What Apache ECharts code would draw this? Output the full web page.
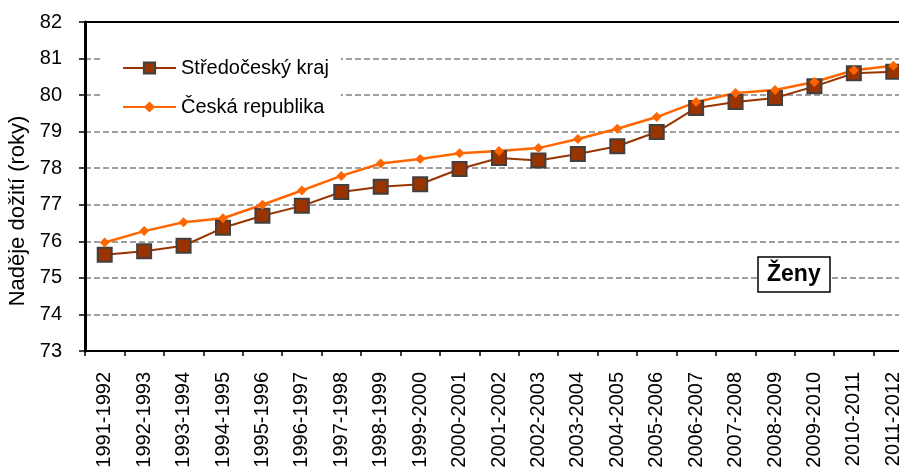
<!DOCTYPE html>
<html>
<head>
<meta charset="utf-8">
<script src="https://cdn.jsdelivr.net/npm/echarts@6/dist/echarts.min.js"></script>
<style>
html,body{margin:0;padding:0;background:#fff;}
#c{width:899px;height:473px;}
</style>
</head>
<body>
<div id="c"></div>
<script>
const categories = ['1991-1992','1992-1993','1993-1994','1994-1995','1995-1996','1996-1997','1997-1998','1998-1999','1999-2000','2000-2001','2001-2002','2002-2003','2003-2004','2004-2005','2005-2006','2006-2007','2007-2008','2008-2009','2009-2010','2010-2011','2011-2012'];
const stredocesky = [75.63,75.73,75.88,76.37,76.70,76.97,77.35,77.49,77.56,77.98,78.28,78.21,78.39,78.60,78.99,79.65,79.81,79.92,80.24,80.60,80.64];
const ceskaRepublika = [75.97,76.28,76.52,76.63,77.00,77.39,77.79,78.13,78.25,78.41,78.47,78.55,78.80,79.08,79.40,79.81,80.06,80.14,80.36,80.68,80.80];
const yTicks = {min:73, max:82, interval:1};
const seriesNames = ['Středočeský kraj','Česká republika'];
const yName = 'Naděje dožití (roky)';
const boxLabel = 'Ženy';

const FONT = 'Liberation Sans, Arial, sans-serif';
const chart = echarts.init(document.getElementById('c'));
chart.setOption({
  animation:false,
  backgroundColor:'#fff',
  textStyle:{fontFamily:FONT, color:'#000'},
  grid:{left:85, top:22, right:-14, bottom:122, containLabel:false, outerBoundsMode:'none'},
  title:{
    text:boxLabel, left:758, top:257,
    padding:[6,10,6,9],
    borderColor:'#000', borderWidth:1.5, backgroundColor:'#fff',
    textStyle:{fontFamily:FONT, fontSize:23, fontWeight:'bold', color:'#000'}
  },
  legend:{
    orient:'vertical', left:103, top:45,
    padding:[12,12,8,19],
    backgroundColor:'#fff',
    itemWidth:53, itemHeight:14, itemGap:17,
    textStyle:{fontFamily:FONT, fontSize:20, color:'#000', lineHeight:22},
    data:seriesNames
  },
  graphic:[{
    type:'text',
    x:18, y:211,
    rotation:Math.PI/2,
    style:{text:yName, font:'22px '+FONT, fill:'#000', align:'center', verticalAlign:'middle'}
  }],
  xAxis:[{
    type:'category', data:categories, boundaryGap:true,
    axisLine:{lineStyle:{color:'#000', width:2}},
    axisTick:{show:true, length:5, interval:0, lineStyle:{color:'#000', width:1.5}},
    axisLabel:{rotate:90, interval:0, fontSize:20, margin:21, color:'#000', fontFamily:FONT},
    splitLine:{show:false}
  },{
    type:'category', data:categories, position:'top',
    axisLine:{lineStyle:{color:'#000', width:2}},
    axisTick:{show:false}, axisLabel:{show:false}, splitLine:{show:false}
  }],
  yAxis:{
    type:'value', min:yTicks.min, max:yTicks.max, interval:yTicks.interval,
    axisLine:{show:true, lineStyle:{color:'#000', width:3}},
    axisTick:{show:true, length:6, lineStyle:{color:'#000', width:1.5}},
    axisLabel:{fontSize:20, margin:23, color:'#000', fontFamily:FONT},
    splitLine:{show:true, lineStyle:{color:'#808080', width:1.5, type:[6,3]}}
  },
  series:[{
    name:seriesNames[0], type:'line', data:stredocesky,
    symbol:'rect', symbolSize:14,
    lineStyle:{color:'#993300', width:2},
    itemStyle:{color:'#993300', borderColor:'#404040', borderWidth:2}
  },{
    name:seriesNames[1], type:'line', data:ceskaRepublika,
    symbol:'diamond', symbolSize:10,
    lineStyle:{color:'#FF6600', width:2.5},
    itemStyle:{color:'#FF6600'}
  }]
});
</script>
</body>
</html>
